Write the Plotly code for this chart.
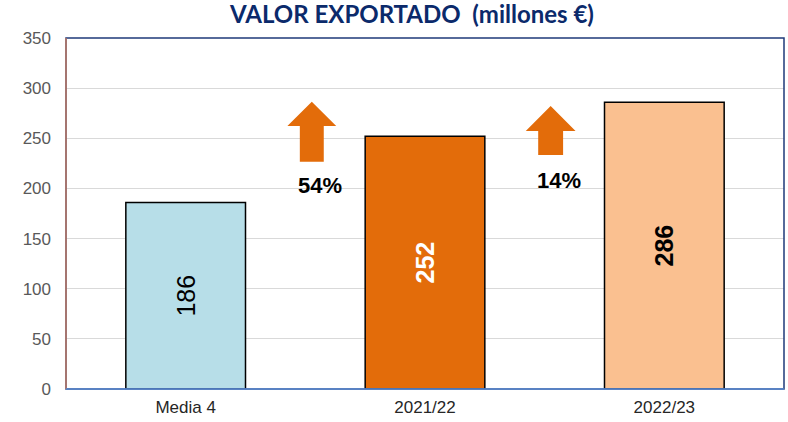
import plotly.graph_objects as go

# ---- data ----
categories = ["Media 4", "2021/22", "2022/23"]
values = [186, 252, 286]
bar_colors = ["#B7DEE8", "#E36C0A", "#FAC090"]
label_colors = ["#000000", "#FFFFFF", "#000000"]
label_bold = [False, True, True]
growth_labels = ["54%", "14%"]

title_text = "VALOR EXPORTADO  (millones €)"

W, H = 788, 422

bar_text = [f"<b>{v}</b>" if b else f"{v}" for v, b in zip(values, label_bold)]

fig = go.Figure()
fig.add_trace(go.Bar(
    x=categories, y=values,
    marker=dict(color=bar_colors, line=dict(color="#000000", width=1.5)),
    text=bar_text, texttemplate="%{text}",
    textposition="inside", textangle=-90, insidetextanchor="middle",
    insidetextfont=dict(family="Liberation Sans, Arial, sans-serif", size=25, color=label_colors),
    hoverinfo="skip", showlegend=False,
))

# ---- decorative up-arrows between bars ----
def arrow_path(cx, y0, yb, yt, hw, sw):
    return (f"M {cx-sw} {y0} L {cx+sw} {y0} L {cx+sw} {yb} L {cx+hw} {yb} "
            f"L {cx} {yt} L {cx-hw} {yb} L {cx-sw} {yb} Z")

arrow_specs = [
    dict(cx=0.527, y0=226.7, yb=262.3, yt=286.5, hw=0.102, sw=0.050),
    dict(cx=1.525, y0=233.3, yb=257.3, yt=282.2, hw=0.104, sw=0.052),
]
for a in arrow_specs:
    fig.add_shape(type="path", xref="x", yref="y",
                  path=arrow_path(**a), fillcolor="#E36C0A", line=dict(width=0),
                  layer="above")

label_pos = [(0.561, 202.7), (1.560, 208.4)]
for (lx, ly), t in zip(label_pos, growth_labels):
    fig.add_annotation(x=lx, y=ly, xref="x", yref="y", text=f"<b>{t}</b>",
                       showarrow=False,
                       font=dict(family="Liberation Sans, Arial, sans-serif", size=22, color="#000000"))

# plot-area border (top/right navy)
fig.add_shape(type="rect", xref="paper", yref="paper", x0=0, x1=1, y0=0, y1=1,
              line=dict(color="#1F3A7A", width=1.5), layer="above")
# left axis line (brownish) and bottom axis line (blue)
fig.add_shape(type="line", xref="paper", yref="paper", x0=0, x1=0, y0=0, y1=1,
              line=dict(color="#C07A62", width=1.5), layer="above")
fig.add_shape(type="line", xref="paper", yref="paper", x0=0, x1=1, y0=0, y1=0,
              line=dict(color="#5B8BD0", width=1.5), layer="above")

fig.update_layout(
    width=W, height=H,
    margin=dict(l=66, r=4, t=38, b=33, autoexpand=False),
    paper_bgcolor="#FFFFFF", plot_bgcolor="#FFFFFF",
    bargap=0.5,
    title=dict(text=f"<b>{title_text}</b>", x=412 / W, xanchor="center",
               y=1 - 15 / H, yanchor="middle", xref="container", yref="container",
               font=dict(family="Lato, Open Sans, sans-serif", size=24, color="#0B2A6B")),
    xaxis=dict(type="category", showline=False, showgrid=False, ticks="",
               automargin=False,
               tickfont=dict(family="Liberation Sans, Arial, sans-serif", size=17, color="#262626"),
               ticklabelstandoff=6, fixedrange=True),
    yaxis=dict(range=[0, 350], dtick=50, showline=False, showgrid=True,
               automargin=False,
               gridcolor="#D9D9D9", gridwidth=1, zeroline=False, ticks="",
               tickfont=dict(family="Liberation Sans, Arial, sans-serif", size=17, color="#595959"),
               ticklabelstandoff=14, fixedrange=True),
)

# remove the default 8px page margin so the figure fills the window exactly
fig.write_html("out.html", config={"displayModeBar": False},
               post_script="document.body.style.margin='0';document.body.style.overflow='hidden';")
